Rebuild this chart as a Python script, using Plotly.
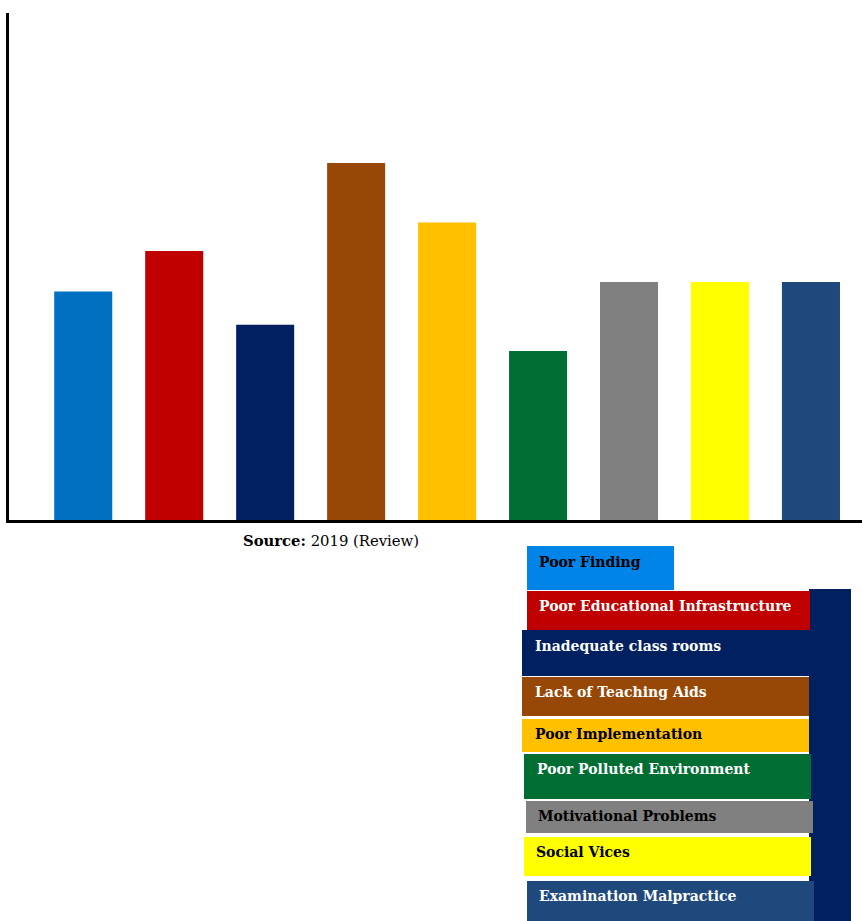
import plotly.graph_objects as go

# ---- data ----
categories = [
    "Poor Finding",
    "Poor Educational Infrastructure",
    "Inadequate class rooms",
    "Lack of Teaching Aids",
    "Poor Implementation",
    "Poor Polluted Environment",
    "Motivational Problems",
    "Social Vices",
    "Examination Malpractice",
]
values = [9.6, 11.3, 8.2, 15.0, 12.5, 7.1, 10.0, 10.0, 10.0]
bar_colors = ["#0070C0", "#C00000", "#002060", "#974706", "#FFC000",
              "#006E33", "#808080", "#FFFF00", "#1F497D"]
legend_box_colors = ["#0084E8", "#C00000", "#002060", "#974706", "#FFC000",
                     "#006E33", "#808080", "#FFFF00", "#1F497D"]
legend_text_colors = ["black", "white", "white", "white", "black",
                      "white", "black", "black", "white"]
source_bold = "Source:"
source_text = "2019 (Review)"

W, H = 862, 921
PL, PR, PT, PB = 9, 862, 13, 520  # plot area in pixels


def px(x):
    return (x - PL) / (PR - PL)


def py(y):
    return (PB - y) / (PB - PT)


FONT = "DejaVu Serif"

fig = go.Figure()
fig.add_trace(go.Bar(
    x=categories, y=values,
    marker=dict(color=bar_colors, line=dict(width=0)),
    width=0.638, showlegend=False,
))

# legend box geometry in pixels: (x0, y0, x1, y1, text_x)
boxes = [
    (527, 546, 674, 590, 539),
    (527, 591, 810, 630, 539),
    (522, 630, 809, 676, 535),
    (522, 677, 809, 716, 535),
    (522, 719, 809, 752, 535),
    (524, 754, 811, 799, 537),
    (526, 801, 813, 833, 538),
    (524, 837, 811, 876, 536),
    (527, 881, 814, 921, 539),
]
text_y = [562, 606, 646, 692, 734, 769, 816, 852, 896]

shapes = [dict(type="rect", xref="paper", yref="paper",
               x0=px(809), x1=px(851), y0=py(589), y1=py(921),
               fillcolor="#002060", line=dict(width=0), layer="above")]
annotations = []
for (x0, y0, x1, y1, tx), ty, c, tc, lab in zip(boxes, text_y, legend_box_colors,
                                                legend_text_colors, categories):
    shapes.append(dict(type="rect", xref="paper", yref="paper",
                       x0=px(x0), x1=px(x1), y0=py(y0), y1=py(y1),
                       fillcolor=c, line=dict(width=0), layer="above"))
    annotations.append(dict(xref="paper", yref="paper", x=px(tx - 2), y=py(ty),
                            xanchor="left", yanchor="middle", showarrow=False,
                            text="<b>%s</b>" % lab,
                            font=dict(family=FONT, size=14, color=tc)))

annotations.append(dict(xref="paper", yref="paper", x=px(331), y=py(540),
                        xanchor="center", yanchor="middle", showarrow=False,
                        text="<b>%s</b> %s" % (source_bold, source_text),
                        font=dict(family=FONT, size=14.8, color="black")))

fig.update_layout(
    width=W, height=H,
    margin=dict(l=PL, r=W - PR, t=PT, b=H - PB, pad=0),
    paper_bgcolor="white", plot_bgcolor="white",
    shapes=shapes, annotations=annotations,
    bargap=0.36,
    xaxis=dict(range=[-0.816, 8.561], showticklabels=False, ticks="",
               showgrid=False, zeroline=False, showline=True,
               linecolor="black", linewidth=3),
    yaxis=dict(range=[0, 21.3], showticklabels=False, ticks="",
               showgrid=False, zeroline=False, showline=True,
               linecolor="black", linewidth=3),
)

fig.write_html("out.html")
